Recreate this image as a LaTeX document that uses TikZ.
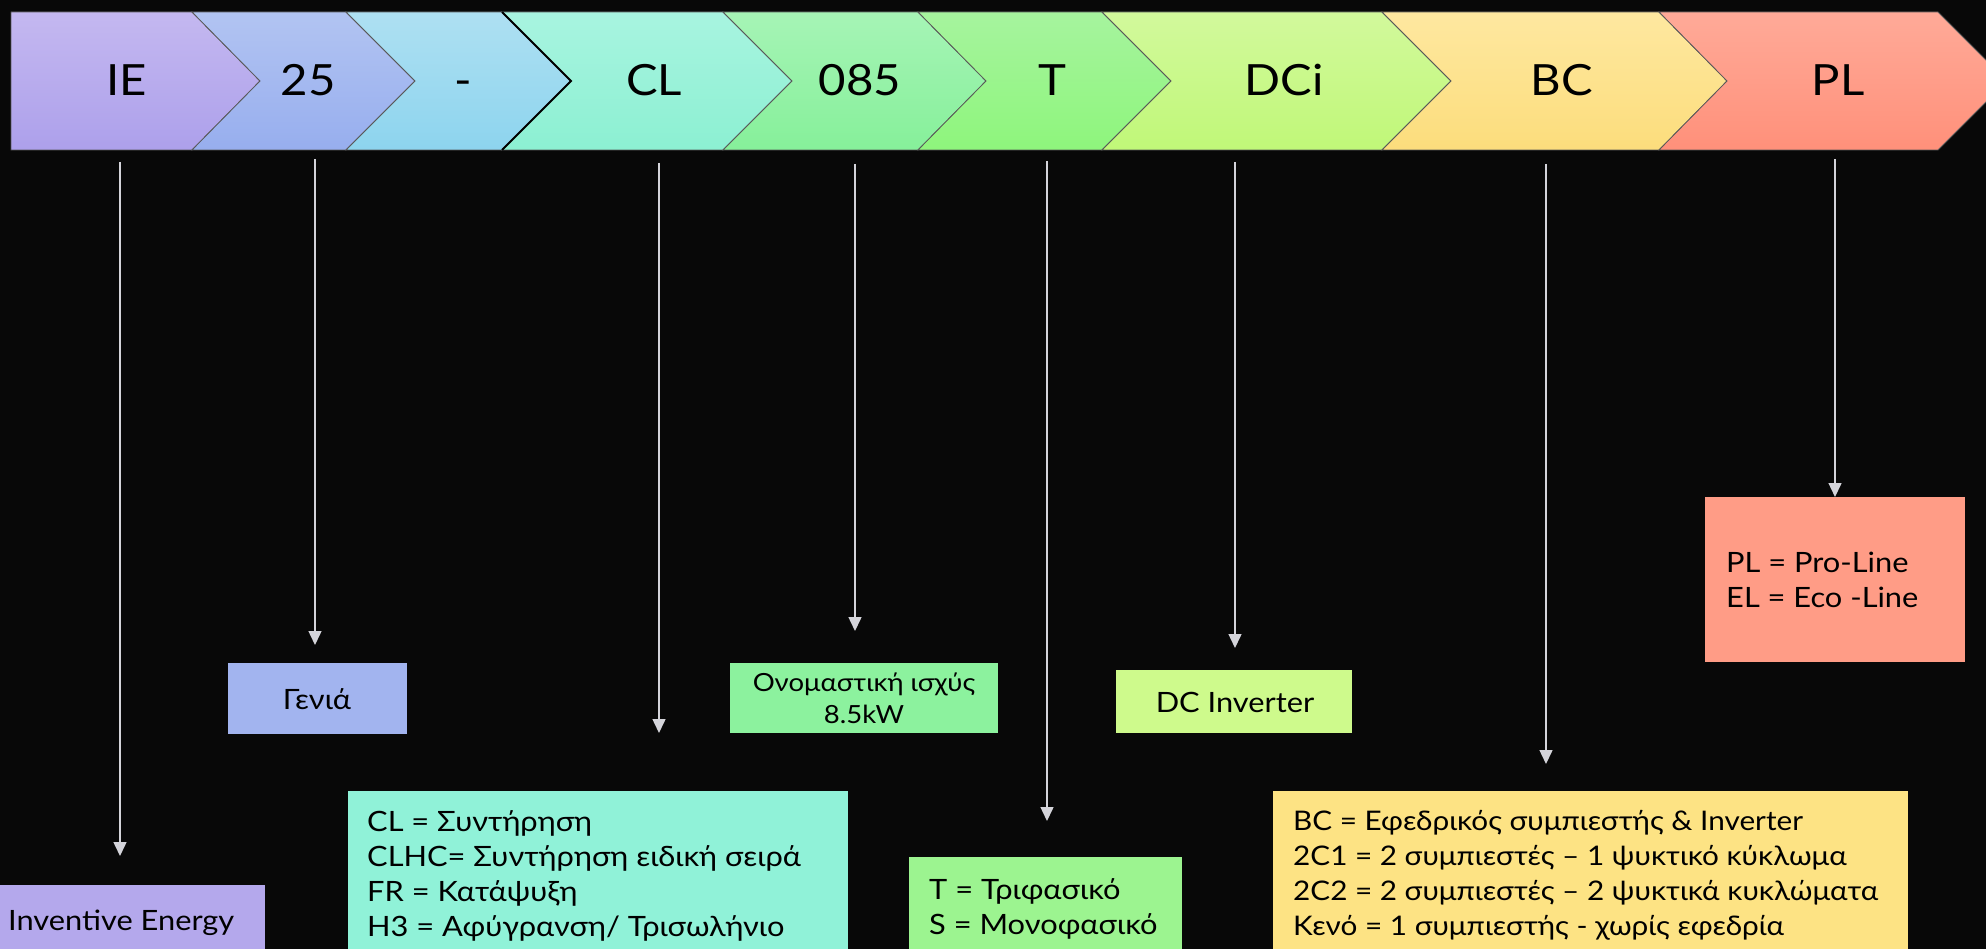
\documentclass[tikz,border=0pt]{standalone}
\usepackage{fontspec}
\setmainfont{Lato}[FakeStretch=1.1]
\usetikzlibrary{arrows.meta}

\definecolor{bgdark}{HTML}{080808}
\definecolor{pointgray}{HTML}{D4D4DA}
\definecolor{ieTop}{HTML}{C4B8F0}  \definecolor{ieBot}{HTML}{ADA0EB}
\definecolor{genTop}{HTML}{B2C4F2} \definecolor{genBot}{HTML}{97AEEE}
\definecolor{dshTop}{HTML}{AEE0F2} \definecolor{dshBot}{HTML}{8DD4EE}
\definecolor{clTop}{HTML}{A8F4E0}  \definecolor{clBot}{HTML}{8CF0D2}
\definecolor{pwTop}{HTML}{A6F4B6}  \definecolor{pwBot}{HTML}{86F09A}
\definecolor{phTop}{HTML}{A6F49E}  \definecolor{phBot}{HTML}{8EF57C}
\definecolor{dcTop}{HTML}{D2F99C}  \definecolor{dcBot}{HTML}{C0F878}
\definecolor{bcTop}{HTML}{FEE8A0}  \definecolor{bcBot}{HTML}{FCDD7C}
\definecolor{plTop}{HTML}{FFAA98}  \definecolor{plBot}{HTML}{FF907A}
\definecolor{ieFill}{HTML}{B4A8EC}
\definecolor{genFill}{HTML}{A2B4EF}
\definecolor{clFill}{HTML}{90F2D8}
\definecolor{pwFill}{HTML}{8CF29E}
\definecolor{phFill}{HTML}{9CF490}
\definecolor{dcFill}{HTML}{CEFA8C}
\definecolor{bcFill}{HTML}{FDE384}
\definecolor{plFill}{HTML}{FF9C86}

\begin{document}
\begin{tikzpicture}[x=1pt, y=-1pt, >={Triangle[width=13pt,length=14pt]},
    chev/.style={draw=black!65, line width=0.8pt},
    lbl/.style={anchor=base, inner sep=0pt, font=\fontsize{43}{50}\selectfont},
    pointer/.style={->, draw=pointgray, line width=1.5pt},
    box/.style={anchor=north west, inner sep=0pt, outer sep=0pt},
    boxtext/.style={anchor=base west, align=left, inner sep=0pt,
        font=\fontsize{28}{35}\selectfont}]

% background
\useasboundingbox (0,0) rectangle (1986,949);
\fill[bgdark] (0,0) rectangle (1986,949);
\clip (0,0) rectangle (1986,949);

% code band (chevrons)
\draw[chev, top color=ieTop, bottom color=ieBot]
    (11,12) -- (192,12) -- (260,81) -- (192,150) -- (11,150) -- cycle;
\draw[chev, top color=genTop, bottom color=genBot]
    (192,12) -- (346,12) -- (415,81) -- (346,150) -- (192,150) -- (260,81) -- cycle;
\draw[chev, top color=dshTop, bottom color=dshBot]
    (346,12) -- (502,12) -- (571,81) -- (502,150) -- (346,150) -- (415,81) -- cycle;
\draw[chev, top color=clTop, bottom color=clBot]
    (502,12) -- (723,12) -- (792,81) -- (723,150) -- (502,150) -- (571,81) -- cycle;
\draw[chev, top color=pwTop, bottom color=pwBot]
    (723,12) -- (918,12) -- (986,81) -- (918,150) -- (723,150) -- (792,81) -- cycle;
\draw[chev, top color=phTop, bottom color=phBot]
    (918,12) -- (1102,12) -- (1171,81) -- (1102,150) -- (918,150) -- (986,81) -- cycle;
\draw[chev, top color=dcTop, bottom color=dcBot]
    (1102,12) -- (1382,12) -- (1451,81) -- (1382,150) -- (1102,150) -- (1171,81) -- cycle;
\draw[chev, top color=bcTop, bottom color=bcBot]
    (1382,12) -- (1659,12) -- (1727,81) -- (1659,150) -- (1382,150) -- (1451,81) -- cycle;
\draw[chev, top color=plTop, bottom color=plBot]
    (1659,12) -- (1938,12) -- (2007,81) -- (1938,150) -- (1659,150) -- (1727,81) -- cycle;
\draw[black, line width=2pt] (502,12) -- (571,81) -- (502,150);

% code letters
\node[lbl] (ie) at (127,96) {IE};
\node[lbl] (gen) at (308,96) {25};
\node[lbl] (dsh) at (463,96) {-};
\node[lbl] (cl) at (654,96) {CL};
\node[lbl] (pw) at (860,96) {085};
\node[lbl] (ph) at (1052,96) {T};
\node[lbl] (dc) at (1284,96) {DCi};
\node[lbl] (bc) at (1562,96) {BC};
\node[lbl] (pl) at (1838,96) {PL};

% pointers
\coordinate (ie-a) at (120,162);   \coordinate (ie-b) at (120,856);
\coordinate (gen-a) at (315,159);  \coordinate (gen-b) at (315,645);
\coordinate (cl-a) at (659,163);   \coordinate (cl-b) at (659,733);
\coordinate (pw-a) at (855,164);   \coordinate (pw-b) at (855,631);
\coordinate (ph-a) at (1047,161);  \coordinate (ph-b) at (1047,821);
\coordinate (dc-a) at (1235,162);  \coordinate (dc-b) at (1235,648);
\coordinate (bc-a) at (1546,164);  \coordinate (bc-b) at (1546,764);
\coordinate (pl-a) at (1835,159);  \coordinate (pl-b) at (1835,497);
\draw[pointer] (ie-a) -- (ie-b);
\draw[pointer] (gen-a) -- (gen-b);
\draw[pointer] (cl-a) -- (cl-b);
\draw[pointer] (pw-a) -- (pw-b);
\draw[pointer] (ph-a) -- (ph-b);
\draw[pointer] (dc-a) -- (dc-b);
\draw[pointer] (bc-a) -- (bc-b);
\draw[pointer] (pl-a) -- (pl-b);

% explanation boxes
\node[box, fill=ieFill, minimum width=265pt, minimum height=80pt] (ie-box) at (0,885) {};
\node[box, fill=genFill, minimum width=179pt, minimum height=71pt] (gen-box) at (228,663) {};
\node[box, fill=clFill, minimum width=500pt, minimum height=170pt] (cl-box) at (348,791) {};
\node[box, fill=pwFill, minimum width=268pt, minimum height=70pt] (pw-box) at (730,663) {};
\node[box, fill=phFill, minimum width=273pt, minimum height=100pt] (ph-box) at (909,857) {};
\node[box, fill=dcFill, minimum width=236pt, minimum height=63pt] (dc-box) at (1116,670) {};
\node[box, fill=bcFill, minimum width=635pt, minimum height=170pt] (bc-box) at (1273,791) {};
\node[box, fill=plFill, minimum width=260pt, minimum height=165pt] (pl-box) at (1705,497) {};

% box texts (anchored on the last line)
\node[boxtext] (ie-txt) at (8,930) {Inventive Energy};
\node[boxtext, anchor=base] (gen-txt) at (317,709) {Γενιά};
\node[boxtext] (cl-txt) at (367,936) {CL = Συντήρηση\\CLHC= Συντήρηση ειδική σειρά\\FR = Κατάψυξη\\H3 = Αφύγρανση/ Τρισωλήνιο};
\node[boxtext, anchor=base, align=center, font=\fontsize{25}{32}\selectfont] (pw-txt) at (864,723) {Ονομαστική ισχύς\\8.5kW};
\node[boxtext] (ph-txt) at (929,934) {T = Τριφασικό\\S = Μονοφασικό};
\node[boxtext, anchor=base] (dc-txt) at (1235,712) {DC Inverter};
\node[boxtext, font=\fontsize{27}{34.7}\selectfont] (bc-txt) at (1293,935) {BC = Εφεδρικός συμπιεστής \& Inverter\\2C1 = 2 συμπιεστές – 1 ψυκτικό κύκλωμα\\2C2 = 2 συμπιεστές – 2 ψυκτικά κυκλώματα\\Κενό = 1 συμπιεστής - χωρίς εφεδρία};
\node[boxtext] (pl-txt) at (1726,607) {PL = Pro-Line\\EL = Eco -Line};

\end{tikzpicture}
\end{document}
